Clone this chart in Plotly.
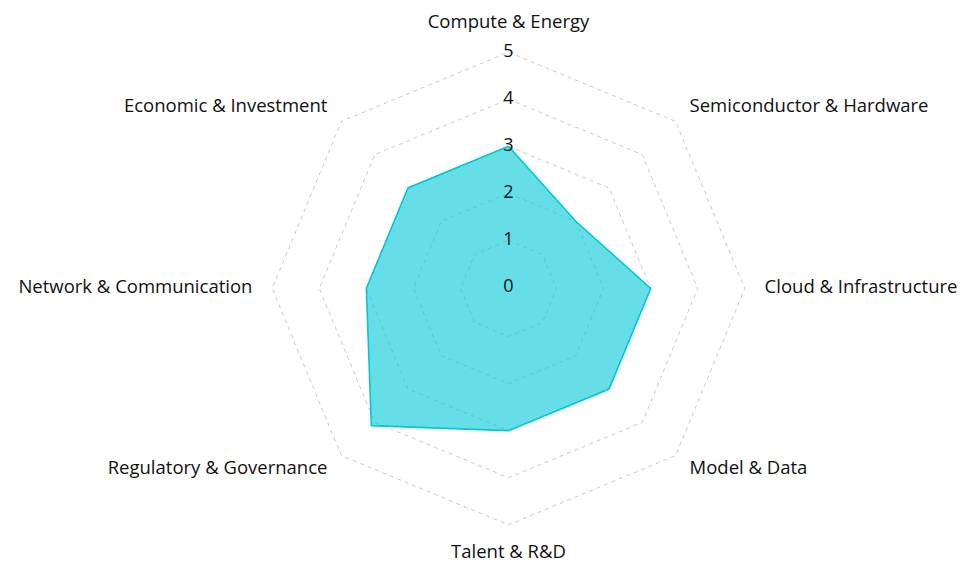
import plotly.graph_objects as go

categories = ["Compute & Energy", "Semiconductor & Hardware", "Cloud & Infrastructure",
              "Model & Data", "Talent & R&D", "Regulatory & Governance",
              "Network & Communication", "Economic & Investment"]
values = [3, 2, 3, 3, 3, 4.1, 3, 3]
tick_values = [0, 1, 2, 3, 4, 5]
tick_labels = ["0", "1", "2", "3", "4", "5"]
label_positions = ["top center", "middle right", "middle right", "middle right",
                   "bottom center", "middle left", "middle left", "middle left"]

FONT = "Open Sans"
LINE = "rgb(0,200,215)"
FILL = "rgba(0,200,215,0.6)"
GRID = "#c8c8c8"
R_OUT = 5.45
LABEL_R = 5.42

fig = go.Figure()
closed = categories + [categories[0]]
# grid rings (dashed octagons)
for t in tick_values[1:]:
    fig.add_trace(go.Scatterpolar(
        r=[t] * len(closed), theta=closed, mode="lines",
        line=dict(color=GRID, width=1, dash="4px,4px"),
        hoverinfo="skip", showlegend=False))
# data polygon
fig.add_trace(go.Scatterpolar(
    r=values + [values[0]], theta=closed,
    mode="lines", fill="toself", fillcolor=FILL,
    line=dict(color=LINE, width=1.6), hoverinfo="skip", showlegend=False))
# radial tick labels
fig.add_trace(go.Scatterpolar(
    r=tick_values, theta=[categories[0]] * len(tick_values),
    mode="text", text=tick_labels, textposition="middle center", cliponaxis=False,
    textfont=dict(family=FONT, size=18, color="#111"),
    hoverinfo="skip", showlegend=False))
# category labels
fig.add_trace(go.Scatterpolar(
    r=[LABEL_R] * len(categories), theta=categories,
    mode="text", text=categories, textposition=label_positions, cliponaxis=False,
    textfont=dict(family=FONT, size=18.5, color="#111"),
    hoverinfo="skip", showlegend=False))

fig.update_layout(
    width=962, height=564,
    margin=dict(l=55, r=0, t=31, b=18),
    paper_bgcolor="white", plot_bgcolor="white",
    font=dict(family=FONT, size=18, color="#111"),
    polar=dict(
        bgcolor="white",
        radialaxis=dict(range=[-0.02, R_OUT], showgrid=False, showticklabels=False,
                        ticks="", showline=False, angle=90),
        angularaxis=dict(direction="clockwise", rotation=90, showline=False,
                         ticks="", showticklabels=False, showgrid=True,
                         gridcolor="rgba(255,255,255,0.3)", gridwidth=1),
    ),
)
fig.write_html("out.html")
